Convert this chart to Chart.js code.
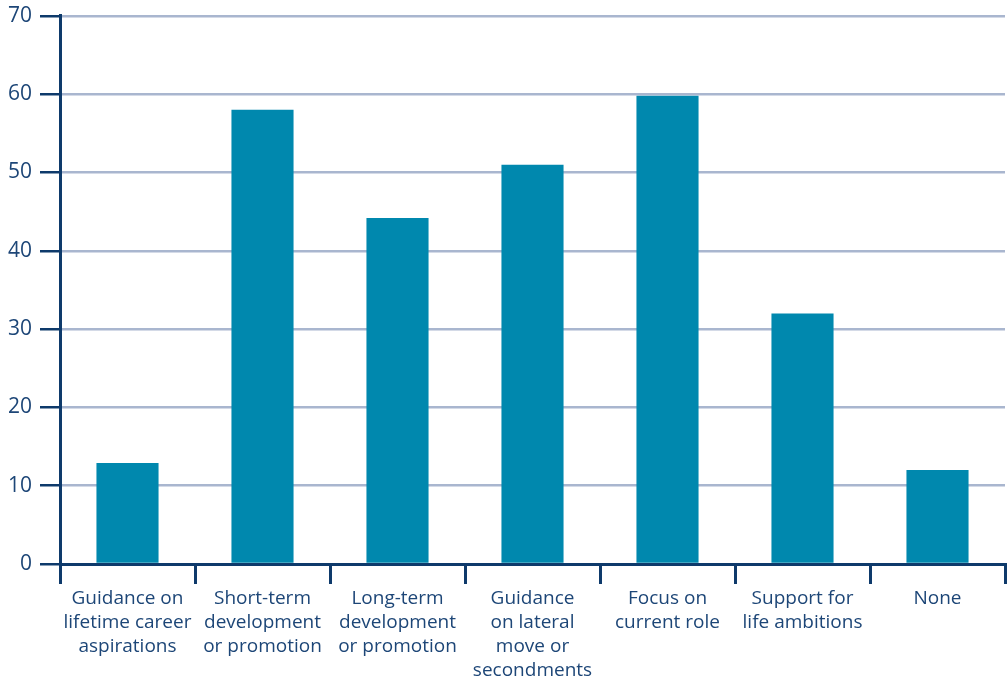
<!DOCTYPE html>
<html>
<head>
<meta charset="utf-8">
<script src="https://cdn.jsdelivr.net/npm/chart.js@4"></script>
<style>
  html, body { margin: 0; padding: 0; background: #fff; }
  #wrap { width: 1008px; height: 680px; }
</style>
</head>
<body>
<div id="wrap"><canvas id="myChart" width="1008" height="680"></canvas></div>
<script>
// categories (wrapped into lines) and values
const categories = [
  ["Guidance on", "lifetime career", "aspirations"],
  ["Short-term", "development", "or promotion"],
  ["Long-term", "development", "or promotion"],
  ["Guidance", "on lateral", "move or", "secondments"],
  ["Focus on", "current role"],
  ["Support for", "life ambitions"],
  ["None"]
];
const values = [12.9, 58, 44.2, 51, 59.8, 32, 12];
const yTicks = [0, 10, 20, 30, 40, 50, 60, 70];

const navy = "#0e3a6b";
const textColor = "#1d4677";
const gridColor = "#a9b6cf";
const barColor = "#0088ae";

const data = {
  labels: categories,
  datasets: [
    {
      data: values,
      backgroundColor: barColor,
      borderWidth: 0,
      barPercentage: 0.46,
      categoryPercentage: 1,
    },
  ],
};

const config = {
  type: "bar",
  data: data,
  options: {
    responsive: false,
    animation: false,
    layout: { padding: { top: 5, right: 3, left: 0, bottom: 0 } },
    plugins: { legend: { display: false }, tooltip: { enabled: false } },
    scales: {
      x: {
        offset: true,
        grid: {
          offset: true,
          drawOnChartArea: false,
          tickLength: 20,
          tickColor: navy,
          lineWidth: 3,
        },
        border: { display: true, color: navy, width: 3 },
        ticks: {
          color: textColor,
          font: { family: "'Open Sans', sans-serif", size: 19, lineHeight: 1.26 },
          padding: 3,
          maxRotation: 0,
          autoSkip: false,
        },
        afterFit: (scale) => { scale.height = 116; },
      },
      y: {
        min: 0,
        max: 70,
        afterBuildTicks: (scale) => {
          scale.ticks = yTicks.map((v) => ({ value: v }));
        },
        grid: {
          color: gridColor,
          tickColor: navy,
          tickLength: 20,
          lineWidth: 2.5,
        },
        border: { display: true, color: navy, width: 3 },
        ticks: {
          color: textColor,
          font: { family: "'Open Sans', sans-serif", size: 21, lineHeight: 0.75 },
          padding: 8,
        },
        afterFit: (scale) => { scale.width = 60; },
      },
    },
  },
};

const myChart = new Chart(document.getElementById("myChart"), config);
</script>
</body>
</html>
